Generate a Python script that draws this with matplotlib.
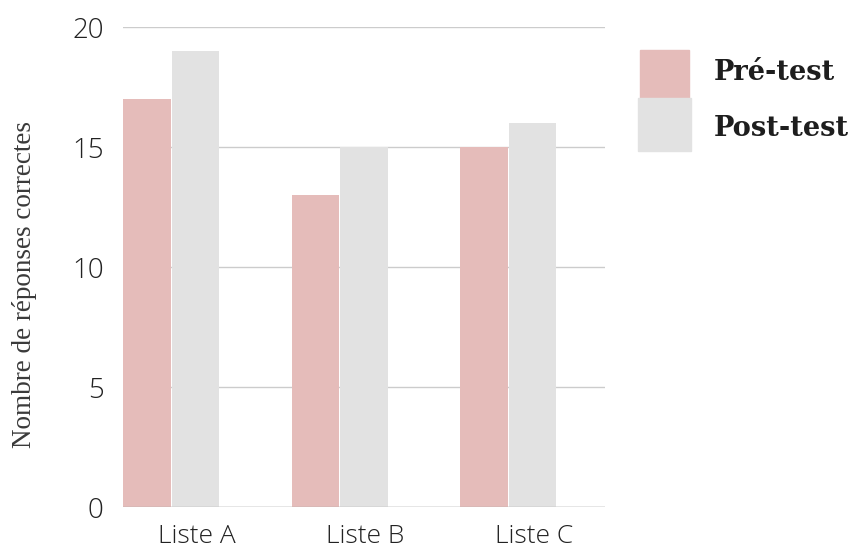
import matplotlib
matplotlib.use("Agg")
import matplotlib.pyplot as plt
from matplotlib.patches import Rectangle
import numpy as np

categories = ["Liste A", "Liste B", "Liste C"]
pre_test = [17, 13, 15]
post_test = [19, 15, 16]
series_names = ["Pré-test", "Post-test"]
colors = ["#e5bcba", "#e2e2e2"]
y_ticks = [0, 5, 10, 15, 20]

fig = plt.figure(figsize=(8.52, 5.49), dpi=100)
ax = fig.add_axes([123 / 852, 1 - 507 / 549, 482 / 852, 480 / 549])

x = np.arange(len(categories))
bw = 0.282
ax.bar(x, pre_test, width=bw, align="edge", color=colors[0], zorder=2)
ax.bar(x + bw + 0.006, post_test, width=bw, align="edge", color=colors[1], zorder=2)

ax.set_xlim(0, 2.86)
ax.set_ylim(0, 20)
ax.set_yticks(y_ticks)
ax.set_yticklabels([str(v) for v in y_ticks], fontsize=20, fontfamily="Open Sans",
                   fontweight="light", color="#222222")
ax.set_xticks(x + 0.44)
ax.set_xticklabels(categories, fontsize=19, fontfamily="Open Sans",
                   fontweight="light", color="#222222")
ax.tick_params(length=0)
ax.tick_params(axis="x", pad=12)
ax.tick_params(axis="y", pad=14)
ax.grid(axis="y", color="#cccccc", linewidth=1, zorder=0)
for s in ax.spines.values():
    s.set_visible(False)
ax.axhline(0, color="#aaaaaa", linewidth=1, zorder=3)

fig.text(25 / 852, 1 - 284 / 549, "Nombre de réponses correctes", rotation=90,
         fontsize=19.5, fontfamily="Liberation Serif", color="#3a3a3a",
         ha="center", va="center")

# legend drawn as figure-level swatches with bold serif labels
fig.patches.append(Rectangle((640 / 852, 1 - 99 / 549), 49 / 852, 49 / 549,
                             transform=fig.transFigure, color=colors[0]))
fig.patches.append(Rectangle((638 / 852, 1 - 151 / 549), 53 / 852, 53 / 549,
                             transform=fig.transFigure, color=colors[1]))
for name, yc in zip(series_names, [72, 128]):
    fig.text(714 / 852, 1 - yc / 549, name, fontsize=19.6, fontweight="bold",
             fontfamily="DejaVu Serif", color="#1e1e1e", va="center", ha="left")

fig.savefig("out.png", dpi=100)
